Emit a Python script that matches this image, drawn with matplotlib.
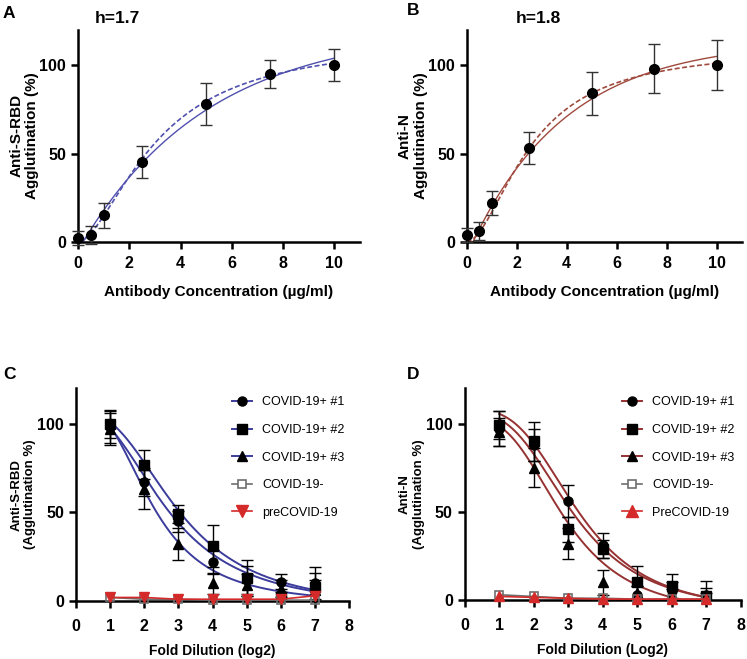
import matplotlib
matplotlib.use("Agg")
import matplotlib.pyplot as plt
import numpy as np

plt.rcParams['font.family'] = ['Liberation Sans', 'DejaVu Sans']

# panels A/B: concentration series
conc = [0, 0.5, 1, 2.5, 5, 7.5, 10]
s_rbd = [2, 4, 15, 45, 78, 95, 100]
s_rbd_err = [4, 5, 7, 9, 12, 8, 9]
anti_n = [4, 6, 22, 53, 84, 98, 100]
anti_n_err = [4, 5, 7, 9, 12, 14, 14]

# fit parameters (hill: vmax, K, h ; one-phase: ymax, k, x0)
hill_a = (115, 3.1, 1.7)
exp_a = (121, 0.20, 0.2)
hill_b = (110, 2.6, 1.8)
exp_b = (114, 0.26, 0.25)

# panels C/D: dilution series
dil = [1, 2, 3, 4, 5, 6, 7]
c_pos1 = [98, 67, 45, 22, 12, 11, 10]
c_pos1_err = [9, 8, 6, 7, 8, 4, 9]
c_pos2 = [100, 77, 49, 31, 13, 2, 8]
c_pos2_err = [8, 8, 5, 12, 10, 3, 8]
c_pos3 = [97, 63, 32, 10, 9, 7, 6]
c_pos3_err = [9, 11, 9, 6, 6, 5, 6]
c_neg = [2, 1, 1, 0.5, 0.5, 0.5, 0.5]
c_pre = [2, 2, 1, 1, 1, 1, 3]

d_pos1 = [97, 88, 56, 31, 3, 5, 3]
d_pos1_err = [10, 9, 9, 7, 5, 5, 8]
d_pos2 = [99, 90, 40, 29, 10, 8, 2]
d_pos2_err = [8, 11, 7, 5, 9, 7, 5]
d_pos3 = [95, 75, 32, 10, 4, 3, 1]
d_pos3_err = [8, 11, 9, 7, 4, 3, 3]
d_neg = [3, 2, 1, 1, 0.5, 0.5, 0.5]
d_pre = [2, 1.5, 1, 0.5, 0.5, 0.5, 0.5]

# 4PL fit parameters (top, bottom, midpoint, slope) for the three positive sera
c_fits = [(107, -5, 2.7, 2.4), (107, -5, 3.0, 2.6), (110, -2, 2.24, 2.7)]
d_fits = [(108, -8, 3.3, 3.2), (106, -8, 3.15, 3.0), (103, -10, 2.9, 3.0)]

labels_c = ['COVID-19+ #1', 'COVID-19+ #2', 'COVID-19+ #3', 'COVID-19-', 'preCOVID-19']
labels_d = ['COVID-19+ #1', 'COVID-19+ #2', 'COVID-19+ #3', 'COVID-19-', 'PreCOVID-19']

blue = '#5050ae'
brown = '#a04a3e'
dblue = '#3c3c9c'
dred = '#963232'
red = '#d42a2a'
grey = '#6e6e6e'

W, H = 747, 659
fig = plt.figure(figsize=(W / 100, H / 100), dpi=100)


def style(ax, xmax, xticks, pad):
    for s in ['top', 'right']:
        ax.spines[s].set_visible(False)
    for s in ['left', 'bottom']:
        ax.spines[s].set_linewidth(1.8)
    ax.set_xlim(0, xmax)
    ax.set_ylim(0, 120)
    ax.set_xticks(xticks)
    ax.set_yticks([0, 50, 100])
    ax.tick_params(width=1.8, length=5, labelsize=11.5)
    ax.tick_params(axis='x', pad=pad)
    for t in ax.get_xticklabels() + ax.get_yticklabels():
        t.set_fontweight('bold')


def letter(px, py, s):
    fig.text(px / W, 1 - py / H, s, fontsize=12.5, fontweight='bold', va='top')


def conc_panel(rect, y, err, hill, expo, color, ylabel, title, tx):
    ax = fig.add_axes(rect)
    style(ax, 11, [0, 2, 4, 6, 8, 10], 5)
    xx = np.linspace(0, 10, 200)
    vmax, K, h = hill
    ax.plot(xx, vmax * xx**h / (K**h + xx**h), color=color, lw=1.2, ls=(0, (3, 1.5)))
    ym, k, x0 = expo
    xs = np.linspace(x0, 10, 200)
    ax.plot(xs, ym * (1 - np.exp(-k * (xs - x0))), color=color, lw=1)
    ax.errorbar(conc, y, yerr=err, fmt='o', color='black', ms=7, ecolor='#333333',
                elinewidth=1, capsize=4, capthick=1, clip_on=False, zorder=5)
    ax.set_xlabel('Antibody Concentration (µg/ml)', fontsize=11, fontweight='bold', labelpad=10)
    ax.set_ylabel(ylabel, fontsize=11, fontweight='bold', labelpad=0)
    ax.text(tx, 1.03, title, transform=ax.transAxes, fontsize=12.5, fontweight='bold', va='baseline')
    return ax


def dil_panel(rect, pos, errs, fits, neg, pre, curve_col, pre_marker, labels, ylabel, xlabel):
    ax = fig.add_axes(rect)
    style(ax, 8, list(range(9)), 8)
    xx = np.linspace(1, 7, 200)
    markers = ['o', 's', '^']
    handles = []
    for y, e, m, (top, bot, mid, n) in zip(pos, errs, markers, fits):
        ax.plot(xx, bot + (top - bot) / (1 + (xx / mid) ** n), color=curve_col, lw=1.4, zorder=3)
        ax.errorbar(dil, y, yerr=e, fmt='none', ecolor='black', elinewidth=1,
                    capsize=4, capthick=1, zorder=4)
        ax.plot(dil, y, m, color='black', ms=6.5, zorder=5)
        handles.append(plt.Line2D([], [], color=curve_col, marker=m, mfc='black', mec='black', ms=6.5, lw=1.4))
    ax.plot(dil, neg, color=grey, lw=1.2, marker='s', mfc='none', mec=grey, ms=6,
            mew=1.2, clip_on=False, zorder=6)
    ax.plot(dil, pre, color=red, lw=1.2, marker=pre_marker, ms=6.5, clip_on=False, zorder=6)
    handles.append(plt.Line2D([], [], color=grey, marker='s', mfc='white', mec=grey, ms=6, mew=1.2, lw=1.2))
    handles.append(plt.Line2D([], [], color=red, marker=pre_marker, ms=9, lw=1.2))
    ax.legend(handles, labels, loc='upper left', bbox_to_anchor=(0.53, 1.015), frameon=False,
              fontsize=9, handlelength=1.6, handletextpad=0.8, labelspacing=1.25)
    ax.set_xlabel(xlabel, fontsize=10, fontweight='bold', labelpad=7)
    ax.set_ylabel(ylabel, fontsize=9.5, fontweight='bold', labelpad=1)
    return ax


conc_panel([0.1044, 0.633, 0.3775, 0.3217], s_rbd, s_rbd_err, hill_a, exp_a, blue,
           'Anti-S-RBD\nAgglutination (%)', 'h=1.7', 0.06)
conc_panel([0.6248, 0.633, 0.368, 0.3217], anti_n, anti_n_err, hill_b, exp_b, brown,
           'Anti-N\nAgglutination (%)', 'h=1.8', 0.18)
dil_panel([0.1017, 0.088, 0.3659, 0.3228], [c_pos1, c_pos2, c_pos3],
          [c_pos1_err, c_pos2_err, c_pos3_err], c_fits, c_neg, c_pre, dblue, 'v', labels_c,
          'Anti-S-RBD\n(Agglutination %)', 'Fold Dilution (log2)')
dil_panel([0.622, 0.0895, 0.3695, 0.3214], [d_pos1, d_pos2, d_pos3],
          [d_pos1_err, d_pos2_err, d_pos3_err], d_fits, d_neg, d_pre, dred, '^', labels_d,
          'Anti-N\n(Agglutination %)', 'Fold Dilution (Log2)')

letter(3, 6, 'A')
letter(407, 3, 'B')
letter(3, 367, 'C')
letter(407, 367, 'D')

fig.savefig('out.png', dpi=100)
